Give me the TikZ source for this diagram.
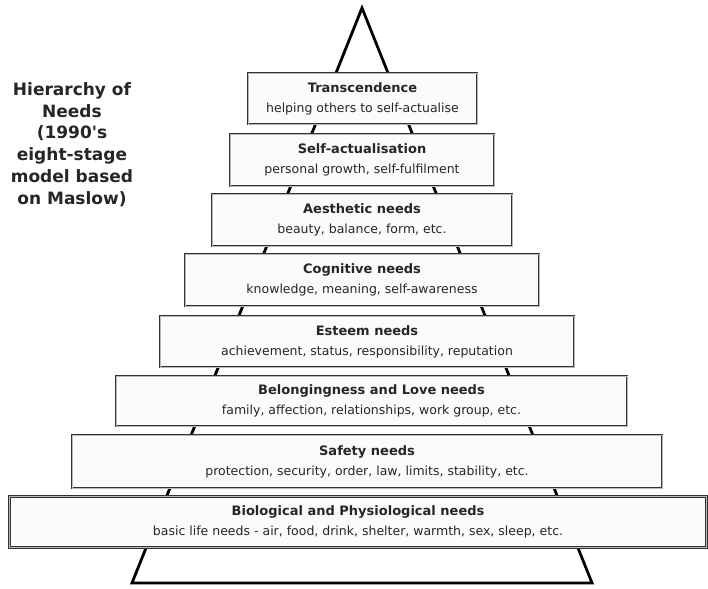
\documentclass[tikz,border=0pt]{standalone}
\usepackage{fontspec}
\setmainfont{DejaVu Sans}
\begin{document}
\begin{tikzpicture}[
    x=1pt, y=-1pt,
    level/.style={
        draw=black!80, double=gray!55, double distance=0.9pt,
        line width=0.7pt, fill=gray!3, text=black!85,
        inner sep=0pt, align=center,
        font=\fontsize{12.5}{20}\selectfont
    },
    pyr/.style={draw=black, line width=2.8pt, line join=miter},
    heading/.style={font=\fontsize{17}{21.7}\selectfont\bfseries,
        align=center, text=black!85}
]
\useasboundingbox (0,0) rectangle (708,588);

%% Pyramida: vrchol a zakladna
\coordinate (apex)  at (362, 8);
\coordinate (baseL) at (132, 583);
\coordinate (baseR) at (592, 583);

\draw[pyr] (apex) -- (baseR) -- (baseL) -- cycle;

%% ── Urovne potrieb (zhora nadol) ─────────────────────────────────
\newcommand\lvltitle[1]{{\fontsize{13}{20}\selectfont\bfseries #1}}
\node[level, minimum width=229pt, minimum height=51pt] (trans) at (362.5, 98.5)
    {\lvltitle{Transcendence}\\helping others to self-actualise};
\node[level, minimum width=264pt, minimum height=52pt] (self) at (362, 160)
    {\lvltitle{Self-actualisation}\\personal growth, self-fulfilment};
\node[level, minimum width=300pt, minimum height=52pt] (aest) at (362, 220)
    {\lvltitle{Aesthetic needs}\\beauty, balance, form, etc.};
\node[level, minimum width=354pt, minimum height=52pt] (cogn) at (362, 280)
    {\lvltitle{Cognitive needs}\\knowledge, meaning, self-awareness};
\node[level, minimum width=414pt, minimum height=51pt] (este) at (367, 341.5)
    {\lvltitle{Esteem needs}\\achievement, status, responsibility, reputation};
\node[level, minimum width=511pt, minimum height=50pt] (belo) at (371.5, 401)
    {\lvltitle{Belongingness and Love needs}\\family, affection, relationships, work group, etc.};
\node[level, minimum width=590pt, minimum height=53pt] (safe) at (367, 461.5)
    {\lvltitle{Safety needs}\\protection, security, order, law, limits, stability, etc.};
\node[level, minimum width=697pt, minimum height=51pt] (biol) at (358, 522)
    {\lvltitle{Biological and Physiological needs}\\basic life needs - air, food, drink, shelter, warmth, sex, sleep, etc.};

%% ── Nadpis ───────────────────────────────────────────────────────
\node[heading] (title) at (72, 144.5)
    {Hierarchy of\\Needs\\(1990\textquotesingle s\\eight-stage\\model based\\on Maslow)};

\end{tikzpicture}
\end{document}
